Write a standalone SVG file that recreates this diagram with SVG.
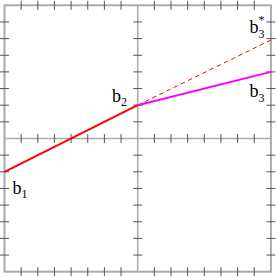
<svg xmlns="http://www.w3.org/2000/svg" width="277" height="277" viewBox="0 0 277 277">
<style>
.frame{fill:none;stroke:#aaaaaa;stroke-width:2}
.axis{stroke:#aaaaaa;stroke-width:1.5;fill:none}
.tick{stroke:#555555;stroke-width:1;fill:none}
.lbl{font-family:"Liberation Serif","Times New Roman",serif;font-size:18px;fill:#000}
.sub{font-size:12px}
</style>
<rect width="277" height="277" fill="#ffffff"/>
<g id="frame">
<rect class="frame" x="4.5" y="5.3" width="266.4" height="266.4"/>
<path class="axis" d="M137.7,5.3V271.7M4.5,138.5H270.9"/>
<g id="ticks-h">
<path class="tick" d="M0,21.95h9M0,38.6h9M0,55.25h9M0,71.9h9M0,88.55h9M0,105.2h9M0,121.85h9M0,155.15h9M0,171.8h9M0,188.45h9M0,205.1h9M0,221.75h9M0,238.4h9M0,255.05h9"/>
<path class="tick" d="M133.2,21.95h9M133.2,38.6h9M133.2,55.25h9M133.2,71.9h9M133.2,88.55h9M133.2,105.2h9M133.2,121.85h9M133.2,155.15h9M133.2,171.8h9M133.2,188.45h9M133.2,205.1h9M133.2,221.75h9M133.2,238.4h9M133.2,255.05h9"/>
<path class="tick" d="M266.4,21.95h9M266.4,38.6h9M266.4,55.25h9M266.4,71.9h9M266.4,88.55h9M266.4,105.2h9M266.4,121.85h9M266.4,155.15h9M266.4,171.8h9M266.4,188.45h9M266.4,205.1h9M266.4,221.75h9M266.4,238.4h9M266.4,255.05h9"/>
</g>
<g id="ticks-v">
<path class="tick" d="M21.15,0.8v9M37.8,0.8v9M54.45,0.8v9M71.1,0.8v9M87.75,0.8v9M104.4,0.8v9M121.05,0.8v9M154.35,0.8v9M171,0.8v9M187.65,0.8v9M204.3,0.8v9M220.95,0.8v9M237.6,0.8v9M254.25,0.8v9"/>
<path class="tick" d="M21.15,134v9M37.8,134v9M54.45,134v9M71.1,134v9M87.75,134v9M104.4,134v9M121.05,134v9M154.35,134v9M171,134v9M187.65,134v9M204.3,134v9M220.95,134v9M237.6,134v9M254.25,134v9"/>
<path class="tick" d="M21.15,267.2v9M37.8,267.2v9M54.45,267.2v9M71.1,267.2v9M87.75,267.2v9M104.4,267.2v9M121.05,267.2v9M154.35,267.2v9M171,267.2v9M187.65,267.2v9M204.3,267.2v9M220.95,267.2v9M237.6,267.2v9M254.25,267.2v9"/>
</g>
</g>
<g id="connectors">
<line x1="137.7" y1="105.2" x2="270.9" y2="40" stroke="#ff0000" stroke-width="1" stroke-dasharray="4.5,3.5"/>
<line x1="4.5" y1="171.8" x2="137.7" y2="105.2" stroke="#ff0000" stroke-width="2"/>
<line x1="137.7" y1="105.2" x2="270.9" y2="71.9" stroke="#ff00ff" stroke-width="2"/>
</g>
<g id="b1"><text class="lbl" x="12.5" y="194">b<tspan class="sub" dy="4">1</tspan></text></g>
<g id="b2"><text class="lbl" x="112" y="101.5">b<tspan class="sub" dy="4">2</tspan></text></g>
<g id="b3star"><text class="lbl" x="249.5" y="33">b<tspan class="sub" dy="5">3</tspan><tspan class="sub" dx="-6" dy="-14">*</tspan></text></g>
<g id="b3"><text class="lbl" x="249.5" y="97">b<tspan class="sub" dy="5">3</tspan></text></g>
</svg>
